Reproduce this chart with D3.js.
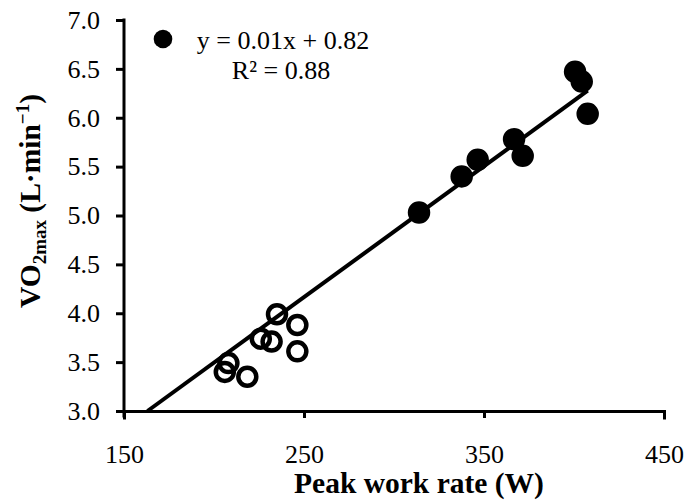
<!DOCTYPE html>
<html>
<head>
<meta charset="utf-8">
<script src="https://cdn.jsdelivr.net/npm/d3@7"></script>
<style>
  html, body { margin: 0; padding: 0; background: #fff; }
  svg { display: block; }
  text { font-family: "Liberation Serif", "Times New Roman", serif; fill: #000; }
</style>
</head>
<body>
<svg id="chart" width="686" height="501"></svg>
<script>
// Peak work rate (W) and VO2max (L·min−1), two groups of subjects
const lowerGroupWork = [206, 208, 218.5, 226, 232, 235, 246.3, 246.3];
const lowerGroupVO2  = [3.40, 3.49, 3.35, 3.74, 3.71, 3.99, 3.88, 3.61];
const upperGroupWork = [313.9, 337.6, 346.5, 366.7, 371.5, 400.6, 404.3, 407.6];
const upperGroupVO2  = [5.03, 5.40, 5.57, 5.78, 5.61, 6.47, 6.37, 6.04];

// Linear trend fitted over all subjects
const trendSlope = 0.0134;
const trendIntercept = 0.815;
const trendLabel = "y = 0.01x + 0.82";
const r2Label = "R² = 0.88";

const xTicks = [150, 250, 350, 450];
const yTicks = [3.0, 3.5, 4.0, 4.5, 5.0, 5.5, 6.0, 6.5, 7.0];
const xDomain = [150, 450];
const yDomain = [3, 7];

const svg = d3.select("#chart");
const x = d3.scaleLinear().domain(xDomain).range([124, 664]);
const y = d3.scaleLinear().domain(yDomain).range([411, 20]);

// Axes
const xAxis = svg.append("g")
  .attr("transform", `translate(0,${y(yDomain[0])})`)
  .call(d3.axisBottom(x).tickValues(xTicks).tickSize(7).tickPadding(27).tickFormat(d3.format("d")));
const yAxis = svg.append("g")
  .attr("transform", `translate(${x(xDomain[0])},0)`)
  .call(d3.axisLeft(y).tickValues(yTicks).tickSize(8).tickPadding(16).tickFormat(d3.format(".1f")));

[xAxis, yAxis].forEach(g => {
  g.select(".domain").attr("stroke", "#000").attr("stroke-width", 3).attr("stroke-linecap", "square");
  g.selectAll(".tick line").attr("stroke", "#000").attr("stroke-width", 3);
  g.selectAll(".tick text")
    .style("font-family", "'Liberation Serif', 'Times New Roman', serif")
    .style("font-size", "26px")
    .attr("fill", "#000");
});
yAxis.select(".domain").attr("d", `M0,${y(yDomain[1])}V${y(yDomain[0]) + 5}`);

const lower = lowerGroupWork.map((w, i) => ({ w, v: lowerGroupVO2[i] }));
const upper = upperGroupWork.map((w, i) => ({ w, v: upperGroupVO2[i] }));

// Open markers
svg.append("g").selectAll("circle").data(lower).join("circle")
  .attr("cx", d => x(d.w)).attr("cy", d => y(d.v)).attr("r", 9)
  .attr("fill", "none").attr("stroke", "#000").attr("stroke-width", 4.5);

// Filled markers
svg.append("g").selectAll("circle").data(upper).join("circle")
  .attr("cx", d => x(d.w)).attr("cy", d => y(d.v)).attr("r", 9)
  .attr("fill", "#000").attr("stroke", "#000").attr("stroke-width", 4.5);

// Trend line, from the lower edge of the plot to the largest work rate
const allWork = lowerGroupWork.concat(upperGroupWork);
const xStart = (yDomain[0] - trendIntercept) / trendSlope;
const xEnd = d3.max(allWork);
svg.append("line")
  .attr("x1", x(xStart)).attr("y1", y(trendIntercept + trendSlope * xStart))
  .attr("x2", x(xEnd)).attr("y2", y(trendIntercept + trendSlope * xEnd))
  .attr("stroke", "#000").attr("stroke-width", 4);

// Legend marker and equation
svg.append("circle").attr("cx", 163).attr("cy", 39).attr("r", 9.3).attr("fill", "#000");
svg.append("text").attr("x", 283).attr("y", 49).attr("text-anchor", "middle")
  .style("font-size", "26px").text(trendLabel);
svg.append("text").attr("x", 281).attr("y", 79).attr("text-anchor", "middle")
  .style("font-size", "26px").text(r2Label);

// Axis titles
svg.append("text").attr("x", 419).attr("y", 493).attr("text-anchor", "middle")
  .style("font-size", "29.5px").style("font-weight", "bold").text("Peak work rate (W)");

const yTitle = svg.append("text")
  .attr("transform", "translate(40,201) rotate(-90)")
  .attr("text-anchor", "middle")
  .style("font-size", "29.5px").style("font-weight", "bold");
yTitle.append("tspan").text("VO");
yTitle.append("tspan").attr("dy", 6).style("font-size", "19px").text("2max");
yTitle.append("tspan").attr("dy", -6).text(" (L·min");
yTitle.append("tspan").attr("dy", -11).style("font-size", "19px").text("−1");
yTitle.append("tspan").attr("dy", 11).text(")");
</script>
</body>
</html>
